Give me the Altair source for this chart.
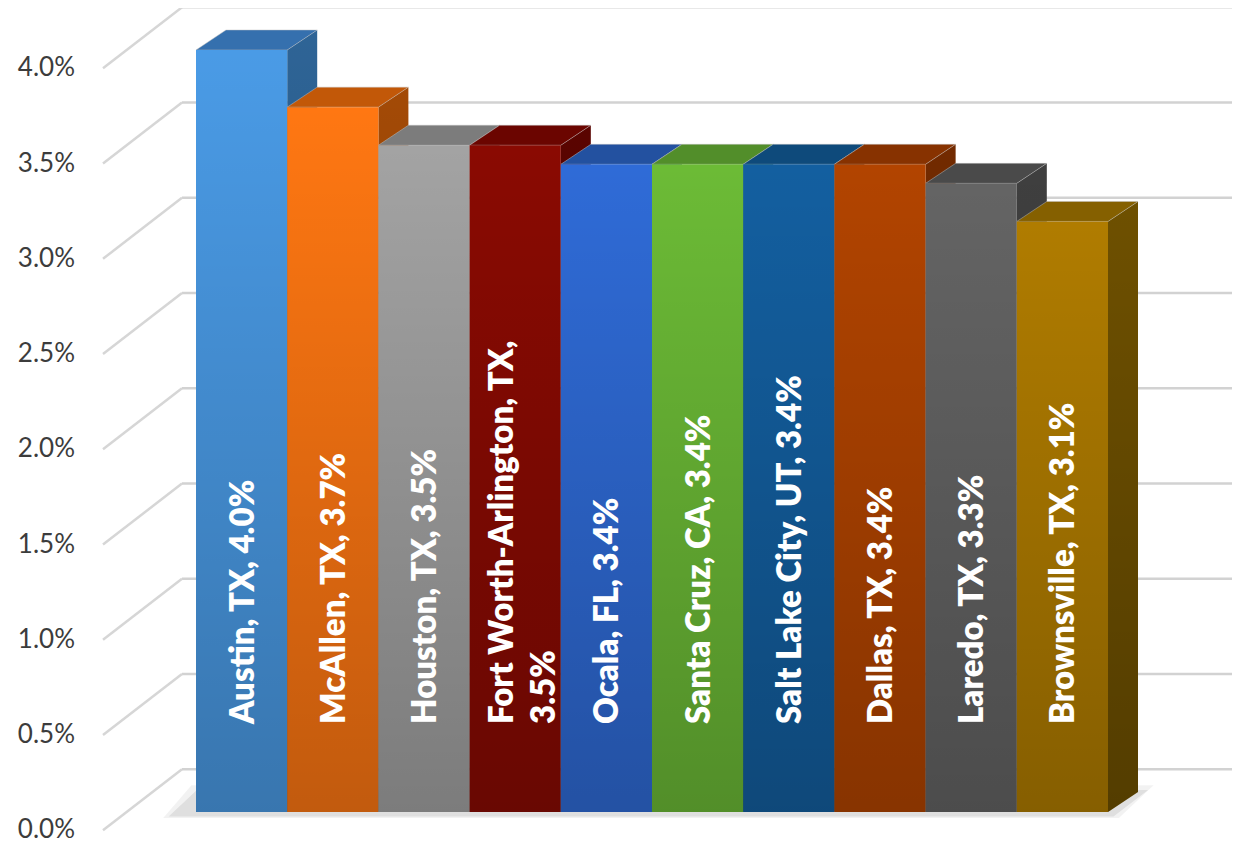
import altair as alt
import pandas as pd

# ---------------- data ----------------
cities = ["Austin, TX", "McAllen, TX", "Houston, TX", "Fort Worth-Arlington, TX",
          "Ocala, FL", "Santa Cruz, CA", "Salt Lake City, UT", "Dallas, TX",
          "Laredo, TX", "Brownsville, TX"]
values = [4.0, 3.7, 3.5, 3.5, 3.4, 3.4, 3.4, 3.4, 3.3, 3.1]
tick_values = [0.0, 0.5, 1.0, 1.5, 2.0, 2.5, 3.0, 3.5, 4.0]
tick_labels = ["0.0%", "0.5%", "1.0%", "1.5%", "2.0%", "2.5%", "3.0%", "3.5%", "4.0%"]

# ---------------- styles ----------------
front_colors = ["#4A9BE6", "#FF7712", "#A3A3A3", "#8A0A02", "#2F6BD7",
                "#6CBB36", "#135FA0", "#B24400", "#646464", "#B07C00"]
top_colors = ["#3570AE", "#C25808", "#7C7C7C", "#6B0500", "#2351A0",
              "#528E2A", "#0E4A7B", "#873200", "#4A4A4A", "#856000"]
side_colors = ["#2E6496", "#A34A06", "#6A6A6A", "#5A0400", "#1E4688",
               "#457824", "#0B3D66", "#722A00", "#3F3F3F", "#6E5000"]

# ---------------- layout constants ----------------
W, H = 1224, 835
PX_U = 91.2          # pixels per bar slot
PX_V = 190.5         # pixels per percentage point
X_DOMAIN = [-188 / PX_U, 1036 / PX_U]
Y_DOMAIN = [-31 / PX_V, 804 / PX_V]
BAR_DX, BAR_DY = 30 / PX_U, 20 / PX_V            # bar depth
WALL_U = -0.76                                   # left wall position
FRONT_DX, FRONT_DY = -23.7 / PX_U, -18.3 / PX_V  # wall front edge
BACK_DX, BACK_DY = 55.3 / PX_U, 42.7 / PX_V      # back wall

xs = alt.Scale(domain=X_DOMAIN, nice=False, zero=False)
ys = alt.Scale(domain=Y_DOMAIN, nice=False, zero=False)


def X(f):
    return alt.X(f, type="quantitative", scale=xs, axis=None)


def Y(f):
    return alt.Y(f, type="quantitative", scale=ys, axis=None)


def make_label(city, v):
    s = f"{city}, {v:.1f}%"
    if len(s) > 26:
        s = f"{city},\n{v:.1f}%"
    return s


n = len(values)
front_df = pd.DataFrame({
    "city": cities,
    "x0": [i for i in range(n)],
    "x1": [i + 1 for i in range(n)],
    "xc": [i + 0.5 for i in range(n)],
    "v": values,
    "base": [0.0] * n,
    "fill": front_colors,
    "label": [make_label(c, v) for c, v in zip(cities, values)],
})
front_df["multi"] = front_df["label"].str.contains("\n")

top_rows, side_rows = [], []
for i, (c, v) in enumerate(zip(cities, values)):
    top_rows.append({"city": c, "y": v, "xa": i, "xb": i + 1, "fill": top_colors[i]})
    top_rows.append({"city": c, "y": v + BAR_DY, "xa": i + BAR_DX, "xb": i + 1 + BAR_DX,
                     "fill": top_colors[i]})
    side_rows.append({"city": c, "x": i + 1, "y": v, "y2": 0.0, "fill": side_colors[i]})
    side_rows.append({"city": c, "x": i + 1 + BAR_DX, "y": v + BAR_DY, "y2": BAR_DY,
                      "fill": side_colors[i]})
top_df = pd.DataFrame(top_rows)
side_df = pd.DataFrame(side_rows)

grid_df = pd.DataFrame({
    "t": tick_values,
    "label": tick_labels,
    "xf": [WALL_U + FRONT_DX] * len(tick_values),
    "yf": [t + FRONT_DY for t in tick_values],
    "xb": [WALL_U + BACK_DX] * len(tick_values),
    "yb": [t + BACK_DY for t in tick_values],
    "xe": [X_DOMAIN[1]] * len(tick_values),
})

# soft floor shadow (two stacked translucent parallelograms)
shadow_rows = []
for k, (grow, op) in enumerate([(0.0, 0.05), (0.06, 0.08)]):
    yf, yb = -0.032 + grow * 0.15, 0.14 - grow * 0.4
    shadow_rows.append({"k": k, "y": yf, "xa": -0.36 + grow, "xb": n + 0.12 - grow, "op": op})
    shadow_rows.append({"k": k, "y": yb, "xa": -0.05 + grow, "xb": n + 0.5 - grow, "op": op})
shadow_df = pd.DataFrame(shadow_rows)

grad = alt.Gradient(
    gradient="linear",
    stops=[alt.GradientStop(color="rgba(0,0,0,0)", offset=0),
           alt.GradientStop(color="rgba(0,0,0,0.24)", offset=1)],
    x1=0, x2=0, y1=0, y2=1,
)

grid_back = alt.Chart(grid_df).mark_rule(color="#d2d2d2", strokeWidth=2.5).encode(
    x=X("xb"), x2=alt.X2("xe"), y=Y("yb"))
grid_diag = alt.Chart(grid_df).mark_rule(color="#d6d6d6", strokeWidth=2.5).encode(
    x=X("xf"), x2=alt.X2("xb"), y=Y("yf"), y2=alt.Y2("yb"))

shadow = alt.Chart(shadow_df).mark_area(orient="horizontal", color="#000000").encode(
    y=Y("y"), x=X("xa"), x2=alt.X2("xb"), detail="k:N",
    opacity=alt.Opacity("op:Q", scale=None))

sides = alt.Chart(side_df).mark_area().encode(
    x=X("x"), y=Y("y"), y2=alt.Y2("y2"), detail="city:N",
    color=alt.Color("fill:N", scale=None))
sides_grad = alt.Chart(side_df).mark_area(color=grad).encode(
    x=X("x"), y=Y("y"), y2=alt.Y2("y2"), detail="city:N")

tops = alt.Chart(top_df).mark_area(
    orient="horizontal", stroke="#bdbdbd", strokeWidth=0.8, strokeOpacity=0.6).encode(
    y=Y("y"), x=X("xa"), x2=alt.X2("xb"), detail="city:N",
    color=alt.Color("fill:N", scale=None))

fronts = alt.Chart(front_df).mark_rect().encode(
    x=X("x0"), x2=alt.X2("x1"), y=Y("v"), y2=alt.Y2("base"),
    color=alt.Color("fill:N", scale=None))
fronts_grad = alt.Chart(front_df).mark_rect(color=grad).encode(
    x=X("x0"), x2=alt.X2("x1"), y=Y("v"), y2=alt.Y2("base"))

label_style = dict(angle=270, align="left", baseline="middle", font="Lato",
                   fontWeight=800, fontSize=33, color="white", lineBreak="\n",
                   lineHeight=42, yOffset=-88)
labels_single = alt.Chart(front_df).transform_filter("!datum.multi").mark_text(
    xOffset=2, **label_style).encode(x=X("xc"), y=Y("base"), text="label:N")
labels_multi = alt.Chart(front_df).transform_filter("datum.multi").mark_text(
    xOffset=-12, **label_style).encode(x=X("xc"), y=Y("base"), text="label:N")

axis_labels = alt.Chart(grid_df).mark_text(
    align="right", baseline="middle", dx=-28, font="Lato", fontSize=26, color="#3c3c3c",
).encode(x=X("xf"), y=Y("yf"), text="label:N")

chart = alt.layer(
    grid_back, grid_diag, shadow, sides, sides_grad, tops, fronts, fronts_grad,
    labels_single, labels_multi, axis_labels,
).properties(
    width=W, height=H, autosize=alt.AutoSizeParams(type="none"), padding=0,
).configure_view(stroke=None)

chart.save("out.html", embed_options={"renderer": "svg", "actions": False})
